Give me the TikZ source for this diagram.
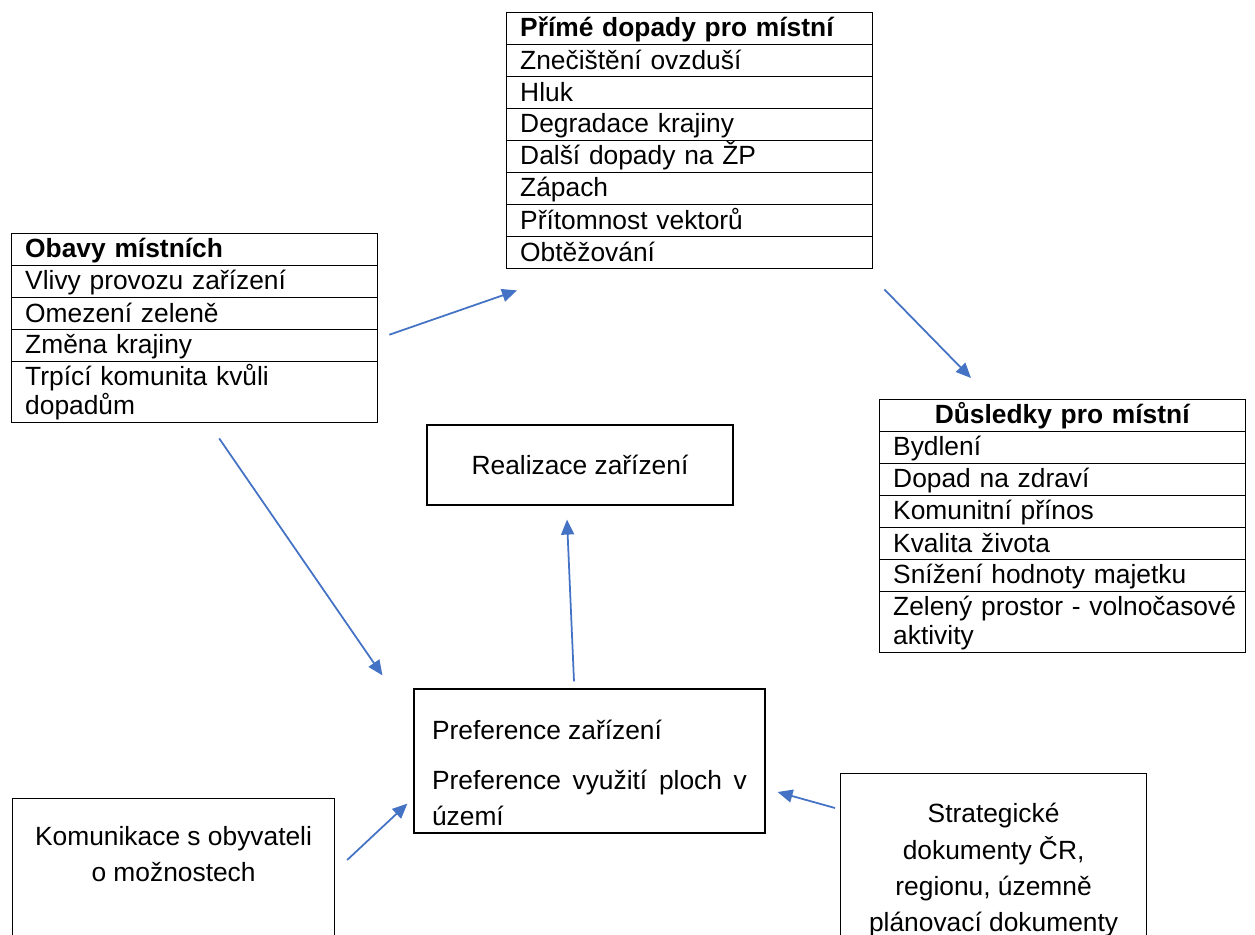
\documentclass[tikz,border=0pt]{standalone}
\usepackage{fontspec}
\setmainfont{Liberation Sans}
\usetikzlibrary{matrix,calc,positioning,arrows.meta}
\definecolor{arrblue}{HTML}{4472C4}
\newcommand{\rowstrut}{\rule[-2.6pt]{0pt}{15.4pt}}
\begin{document}
\begin{tikzpicture}[x=.02cm,y=-.02cm,line width=.7pt,font=\fontsize{15}{16.5}\selectfont,
                    tab/.style={matrix of nodes,inner sep=0pt,row sep=-.7pt,anchor=north west,
                                nodes={draw,text width=6.76cm,inner xsep=.28cm,inner ysep=0pt,minimum height=.64cm,align=left,
                                       execute at begin node=\rowstrut,execute at end node=\rowstrut}},
                    hd/.style={font=\fontsize{15}{16.5}\selectfont\bfseries},
                    tworow/.style={minimum height=1.22cm},
                    box/.style={draw,inner sep=0pt},
                    txt/.style={align=center,font=\fontsize{15}{20.6}\selectfont},
                    arr/.style={draw=arrblue,line width=1pt,-{Triangle[length=.3cm,width=.26cm]}}]
  \useasboundingbox (0,0) rectangle (1255,935);
  \clip (0,0) rectangle (1255,935);
  % tables
  \matrix (prime) [tab] at (505,11) {
    |[hd]| Přímé dopady pro místní \\
    Znečištění ovzduší \\
    Hluk \\
    Degradace krajiny \\
    Další dopady na ŽP \\
    Zápach \\
    Přítomnost vektorů \\
    Obtěžování \\
  };
  \matrix (obavy) [tab] at (10,232) {
    |[hd]| Obavy místních \\
    Vlivy provozu zařízení \\
    Omezení zeleně \\
    Změna krajiny \\
    |[tworow]| Trpící komunita kvůli\newline dopadům \\
  };
  \matrix (dusl) [tab] at (878,398) {
    |[hd,align=center]| Důsledky pro místní \\
    Bydlení \\
    Dopad na zdraví \\
    Komunitní přínos \\
    Kvalita života \\
    Snížení hodnoty majetku \\
    |[tworow]| \mbox{Zelený prostor - volnočasové}\newline aktivity \\
  };
  % boxes
  \node (real)  [box,minimum width=6.12cm,minimum height=1.6cm] at (580,465) {Realizace zařízení};
  \node (pref)  [box,minimum width=7.02cm,minimum height=2.88cm,text width=6.3cm,align=justify,font=\fontsize{15}{20.6}\selectfont] at (589.5,761)
                {\rule{0pt}{24.5pt}Preference zařízení\par\vspace{8pt}Preference využití ploch v\linebreak území};
  \node (komu)  [box,minimum width=6.44cm,minimum height=3.4cm,anchor=north west] at (12,798) {};
  \node (komutxt) [txt,below=.44cm of komu.north] {Komunikace s obyvateli\\o možnostech};
  \node (strat) [box,minimum width=6.12cm,minimum height=3.4cm,anchor=north west] at (840,773) {};
  \node (strattxt) [txt,below=.48cm of strat.north] {Strategické\\dokumenty ČR,\\regionu, územně\\plánovací dokumenty};
  % arrows
  \draw[arr] ($(obavy.east)+(11,7)$)         -- ($(prime.south west)+(12,21)$);
  \draw[arr] ($(prime.south east)+(11,20)$)  -- ($(dusl.north west)+(93,-20)$);
  \draw[arr] ($(obavy.south)+(25,15)$)       -- ($(pref.north west)+(-31,-13)$);
  \draw[arr] ($(pref.north)+(-15.5,-7)$)     -- ($(real.south)+(-13,14)$);
  \draw[arr] ($(komu.north east)+(12,62)$)   -- ($(pref.south west)+(-6,-30)$);
  \draw[arr] ($(strat.north west)+(-5,35)$)  -- ($(pref.east)+(12,31)$);
\end{tikzpicture}
\end{document}
